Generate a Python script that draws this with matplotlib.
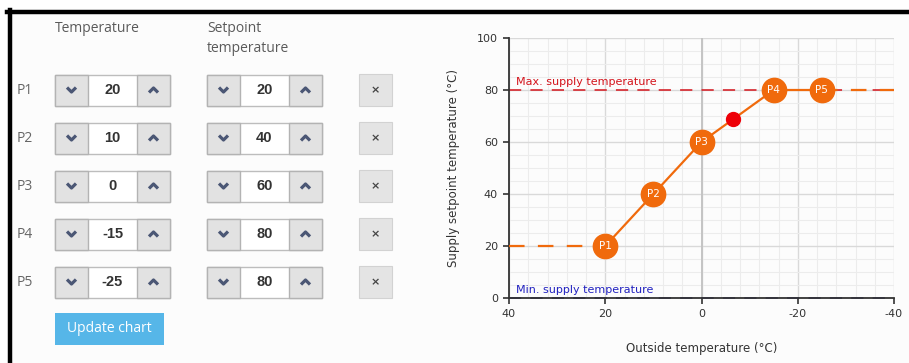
import numpy as np
import matplotlib.pyplot as plt
from matplotlib.patches import Rectangle
from matplotlib.ticker import MultipleLocator

plt.rcParams['axes.unicode_minus'] = False

# heating curve points
point_names = ['P1', 'P2', 'P3', 'P4', 'P5']
outside_temps = [20, 10, 0, -15, -25]
setpoint_temps = [20, 40, 60, 80, 80]
max_supply = 80
min_supply = 0
current_point = (-6.5, 68.7)
x_ticks = [40, 20, 0, -20, -40]
y_ticks = [0, 20, 40, 60, 80, 100]

W, H = 909, 363
orange = '#f06a0c'
panel_bg = '#fcfcfc'


def spinner(ax, x0, cy, value):
    h = 31
    y0 = cy - h / 2
    ax.add_patch(Rectangle((x0, y0), 115, h, facecolor='white', edgecolor='#bdbdbd', lw=1, zorder=2))
    for bx in (x0, x0 + 82):
        ax.add_patch(Rectangle((bx, y0), 33, h, facecolor='#e2e2e2', edgecolor='#b3b3b3', lw=1, zorder=3))
    cx = x0 + 16.5
    ax.plot([cx - 4.5, cx, cx + 4.5], [cy - 2.5, cy + 2, cy - 2.5], color='#4b5775', lw=2.3,
            solid_capstyle='butt', zorder=4)
    cx = x0 + 98.5
    ax.plot([cx - 4.5, cx, cx + 4.5], [cy + 2.5, cy - 2, cy + 2.5], color='#4b5775', lw=2.3,
            solid_capstyle='butt', zorder=4)
    ax.text(x0 + 57.5, cy, str(value), ha='center', va='center', fontsize=10.5,
            fontweight='bold', family='Liberation Sans', color='#333333', zorder=4)


fig = plt.figure(figsize=(W / 100, H / 100), dpi=100)
fig.patch.set_facecolor('white')

# left panel / frame drawn in pixel coords
bg = fig.add_axes([0, 0, 1, 1])
bg.set_xlim(0, W)
bg.set_ylim(H, 0)
bg.axis('off')
bg.add_patch(Rectangle((9, 12), W, H, facecolor=panel_bg, edgecolor='none', zorder=0))
bg.plot([7, W], [11.5, 11.5], color='black', lw=3.2, zorder=5)
bg.plot([9.5, 9.5], [10, H], color='black', lw=3.2, zorder=5)

hdr = dict(fontsize=10, family='Open Sans', color='#5a5a5a', va='center', ha='left')
bg.text(55, 29, 'Temperature', **hdr)
bg.text(207, 29, 'Setpoint', **hdr)
bg.text(207, 49, 'temperature', **hdr)

for i, (name, t, s) in enumerate(zip(point_names, outside_temps, setpoint_temps)):
    cy = 90 + 48 * i
    bg.text(17, cy, name, fontsize=10, family='Open Sans', color='#666666', va='center', ha='left')
    spinner(bg, 55, cy, t)
    spinner(bg, 207, cy, s)
    bg.add_patch(Rectangle((359, cy - 16), 33, 32, facecolor='#e4e4e4', edgecolor='#d2d2d2', lw=0.8, zorder=2))
    bg.text(375.5, cy, '×', ha='center', va='center', fontsize=8, fontweight='bold',
            color='#444444', zorder=3)

bg.add_patch(Rectangle((55, 313), 109, 32, facecolor='#56b6e8', edgecolor='none', zorder=2))
bg.text(109.5, 329, 'Update chart', ha='center', va='center', fontsize=10,
        family='Open Sans', color='white', zorder=3)

# chart
ax = fig.add_axes([509 / W, (H - 298) / H, 385 / W, 260 / H])
ax.set_facecolor('none')
ax.set_xlim(40, -40)
ax.set_ylim(0, 100)
ax.set_xticks(x_ticks)
ax.set_yticks(y_ticks)
ax.xaxis.set_minor_locator(MultipleLocator(4))
ax.yaxis.set_minor_locator(MultipleLocator(5))
ax.grid(which='minor', color='#ececec', lw=0.8)
ax.grid(which='major', color='#d9d9d9', lw=1.0)
ax.set_axisbelow(True)
ax.axvline(0, color='#c4c4c4', lw=1.4, zorder=1)
for sp in ('top', 'right'):
    ax.spines[sp].set_visible(False)
for sp in ('left', 'bottom'):
    ax.spines[sp].set_color('#333333')
    ax.spines[sp].set_linewidth(1.3)
ax.tick_params(which='major', length=4, width=1.2, pad=4, color='#333333',
               labelsize=8, labelcolor='#333333')
ax.tick_params(which='minor', length=0)

ax.axhline(max_supply, color='#d4141c', lw=1.1, dashes=(8, 6), zorder=2)
ax.text(38.5, max_supply + 1.2, 'Max. supply temperature', color='#d4141c', fontsize=8,
        ha='left', va='bottom')
ax.axhline(min_supply, color='#1c1c80', lw=1.1, dashes=(8, 6), zorder=2, clip_on=False)
ax.text(38.5, min_supply + 1.2, 'Min. supply temperature', color='#2222c0', fontsize=8,
        ha='left', va='bottom')

ax.plot([40, outside_temps[0]], [setpoint_temps[0]] * 2, color=orange, lw=1.6, dashes=(7, 6), zorder=3)
ax.plot([outside_temps[-1], -40], [setpoint_temps[-1]] * 2, color=orange, lw=1.6, dashes=(7, 6), zorder=3)
ax.plot(outside_temps, setpoint_temps, color=orange, lw=1.6, zorder=3)
ax.plot(outside_temps, setpoint_temps, 'o', ms=17.5, color=orange, zorder=4)
for name, t, s in zip(point_names, outside_temps, setpoint_temps):
    ax.text(t, s, name, ha='center', va='center', color='white', fontsize=7.5, zorder=5)
ax.plot(*current_point, 'o', ms=10, color='#ee0008', zorder=5)

ax.set_xlabel('Outside temperature (°C)', fontsize=8.5, color='#333333')
ax.set_ylabel('Supply setpoint temperature (°C)', fontsize=8.5, color='#333333')
ax.xaxis.set_label_coords(0.5, -0.169)
ax.yaxis.set_label_coords(-0.127, 0.5)

fig.savefig('out.png', dpi=100, facecolor=fig.get_facecolor())
